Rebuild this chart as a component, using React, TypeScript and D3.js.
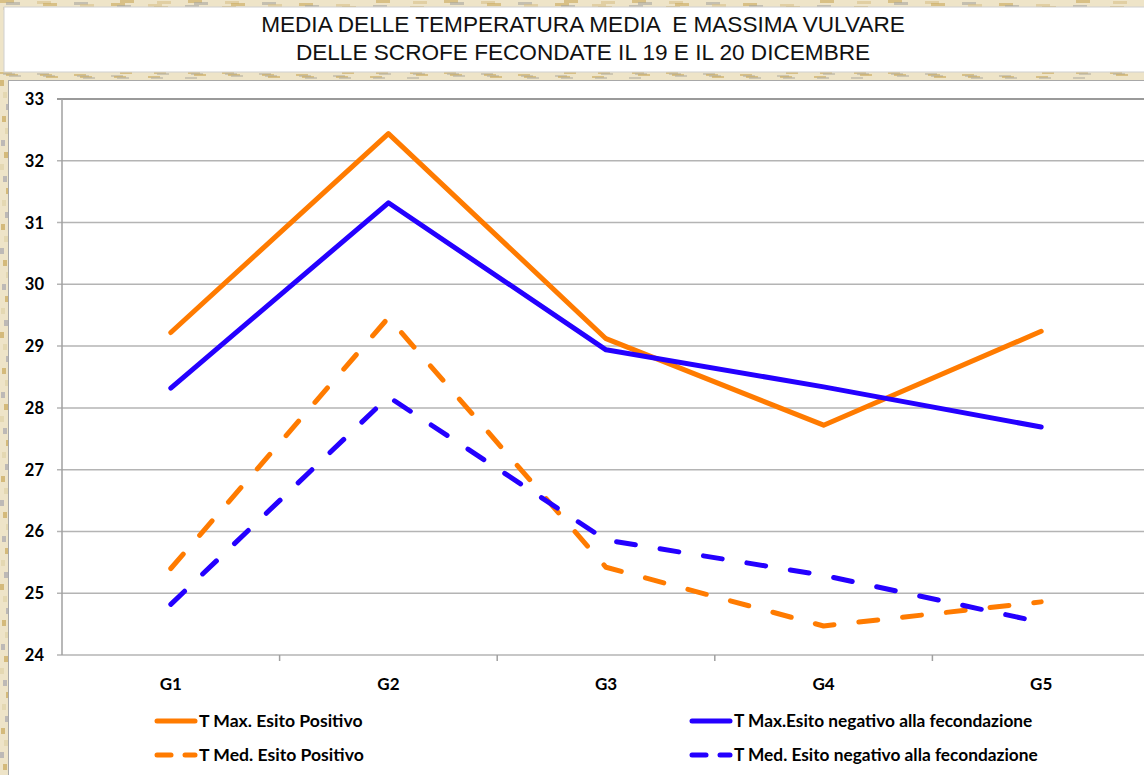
import React from "react";
import * as d3 from "d3";

const categories = ["G1", "G2", "G3", "G4", "G5"];
const tMaxPos = [29.22, 32.44, 29.12, 27.72, 29.24];
const tMaxNeg = [28.32, 31.32, 28.94, 28.34, 27.69];
const tMedPos = [25.4, 29.46, 25.42, 24.47, 24.86];
const tMedNeg = [24.82, 28.18, 25.86, 25.29, 24.53];
const yTicks = [24, 25, 26, 27, 28, 29, 30, 31, 32, 33];
const titleLines = [
  "MEDIA DELLE TEMPERATURA MEDIA  E MASSIMA VULVARE",
  "DELLE SCROFE FECONDATE IL 19 E IL 20 DICEMBRE",
];
const seriesNames = [
  "T Max. Esito Positivo",
  "T Med. Esito Positivo",
  "T Max.Esito negativo alla fecondazione",
  "T Med. Esito negativo alla fecondazione",
];

const ORANGE = "#ff7b00";
const BLUE = "#2400ff";

export default function App() {
  const W = 1144;
  const H = 775;
  const x = d3.scaleBand<string>().domain(categories).range([62, 1150]).paddingInner(0).paddingOuter(0);
  const y = d3.scaleLinear().domain([24, 33]).range([655, 99]);
  const cx = (c: string) => (x(c) as number) + x.bandwidth() / 2;
  const line = d3
    .line<number>()
    .x((_, i) => cx(categories[i]))
    .y((v) => y(v));

  const series = [
    { name: seriesNames[0], data: tMaxPos, color: ORANGE, dash: "" },
    { name: seriesNames[1], data: tMedPos, color: ORANGE, dash: "19 25" },
    { name: seriesNames[2], data: tMaxNeg, color: BLUE, dash: "" },
    { name: seriesNames[3], data: tMedNeg, color: BLUE, dash: "19 25" },
  ];

  const legendPos = [
    { x: 155, y: 721 },
    { x: 155, y: 755 },
    { x: 690, y: 721 },
    { x: 690, y: 755 },
  ];

  const bounds = categories.map((c) => x(c) as number).slice(1);

  const texture: JSX.Element[] = [];
  for (let i = 0; i < 120; i++) {
    const tx = (i * 37) % W;
    texture.push(
      <rect key={"t" + i} x={tx} y={(i * 13) % 12} width={14} height={3} fill={i % 3 === 0 ? "#c9a85a" : i % 3 === 1 ? "#d8c28a" : "#a9a6a0"} opacity={0.6} />
    );
    texture.push(
      <rect key={"b" + i} x={tx} y={72 + ((i * 7) % 6)} width={12} height={2} fill={i % 2 === 0 ? "#c9a85a" : "#b8b2a4"} opacity={0.6} />
    );
  }
  for (let i = 0; i < 60; i++) {
    texture.push(
      <rect key={"l" + i} x={(i * 3) % 7} y={80 + i * 12} width={4} height={6} fill={i % 3 === 0 ? "#c9a85a" : i % 3 === 1 ? "#e0d3a8" : "#a8a6ae"} opacity={0.7} />
    );
  }

  const labelFont = "Lato, 'Open Sans', sans-serif";

  return (
    <svg width={W} height={H} style={{ position: "absolute", left: 0, top: 0 }}>
      <rect x={0} y={0} width={W} height={H} fill="#eee4c8" />
      {texture}
      <rect x={4} y={7} width={W} height={65} fill="#ffffff" stroke="#cfcfcf" strokeWidth={1} />
      {titleLines.map((t, i) => (
        <text
          key={i}
          x={583}
          y={32 + i * 27.5}
          textAnchor="middle"
          fontFamily="'Liberation Sans', Arial, sans-serif"
          fontSize={22.6}
          fill="#111"
          style={{ whiteSpace: "pre" }}
        >
          {t}
        </text>
      ))}
      <rect x={8.5} y={80.5} width={W} height={H} fill="#ffffff" stroke="#a8a8a8" strokeWidth={1} />

      {yTicks.map((t) => (
        <line key={"g" + t} x1={57} x2={W} y1={y(t)} y2={y(t)} stroke={t === 33 ? "#9a9a9a" : "#b4b4b4"} strokeWidth={t === 33 ? 2 : 1.5} />
      ))}
      <line x1={62} x2={62} y1={y(33)} y2={y(24)} stroke="#a0a0a0" strokeWidth={1.5} />
      {bounds.map((b, i) => (
        <line key={"xt" + i} x1={b} x2={b} y1={y(24)} y2={y(24) + 6} stroke="#a0a0a0" strokeWidth={1.5} />
      ))}
      {yTicks.map((t) => (
        <text key={"yl" + t} x={44} y={y(t) + 6} textAnchor="end" fontFamily={labelFont} fontWeight="bold" fontSize={16.5} fill="#000">
          {t}
        </text>
      ))}
      {categories.map((c) => (
        <text key={"xl" + c} x={cx(c)} y={690} textAnchor="middle" fontFamily={labelFont} fontWeight="bold" fontSize={17} fill="#000">
          {c}
        </text>
      ))}

      {series.map((s, i) => (
        <path
          key={"s" + i}
          d={line(s.data) as string}
          fill="none"
          stroke={s.color}
          strokeWidth={5}
          strokeLinecap="round"
          strokeLinejoin="round"
          strokeDasharray={s.dash || undefined}
        />
      ))}

      {series.map((s, i) => {
        const p = legendPos[i];
        const isLeft = i < 2;
        return (
          <g key={"lg" + i}>
            {s.dash ? (
              <>
                <line x1={p.x + 2} x2={p.x + 16} y1={p.y} y2={p.y} stroke={s.color} strokeWidth={5} strokeLinecap="round" />
                <line x1={p.x + 30} x2={p.x + 40} y1={p.y} y2={p.y} stroke={s.color} strokeWidth={5} strokeLinecap="round" />
              </>
            ) : (
              <line x1={p.x + 2} x2={p.x + 40} y1={p.y} y2={p.y} stroke={s.color} strokeWidth={5} strokeLinecap="round" />
            )}
            <text x={p.x + 44} y={p.y + 6} fontFamily={labelFont} fontWeight="bold" fontSize={isLeft ? 17.6 : 17.3} fill="#000">
              {s.name}
            </text>
          </g>
        );
      })}
    </svg>
  );
}
